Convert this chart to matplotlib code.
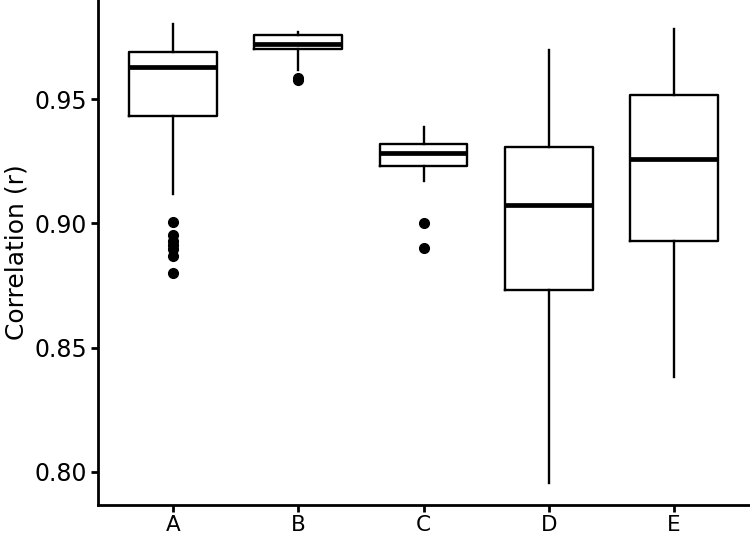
import matplotlib
matplotlib.use("Agg")
import matplotlib.pyplot as plt

# values
groups = ["A", "B", "C", "D", "E"]
whisker_low = [0.9117, 0.9618, 0.9171, 0.7953, 0.8382]
q1 = [0.9433, 0.9703, 0.9232, 0.8731, 0.8930]
median = [0.9630, 0.9722, 0.9282, 0.9074, 0.9258]
q3 = [0.9692, 0.9761, 0.9321, 0.9309, 0.9517]
whisker_high = [0.9803, 0.9772, 0.9387, 0.9700, 0.9782]
outliers = [
    [0.9005, 0.8953, 0.8929, 0.8913, 0.8897, 0.8869, 0.8800],
    [0.9586, 0.9576],
    [0.9000, 0.8902],
    [],
    [],
]

stats = []
for i, g in enumerate(groups):
    stats.append({
        "label": g,
        "whislo": whisker_low[i],
        "q1": q1[i],
        "med": median[i],
        "q3": q3[i],
        "whishi": whisker_high[i],
        "fliers": outliers[i],
    })

fig = plt.figure(figsize=(7.5, 5.38), dpi=100)
ax = fig.add_axes([98 / 750, 33 / 538, 651 / 750, 505 / 538])

ax.bxp(
    stats,
    widths=0.7,
    showcaps=False,
    boxprops=dict(color="black", linewidth=1.7),
    whiskerprops=dict(color="black", linewidth=1.7),
    medianprops=dict(color="black", linewidth=3.4, solid_capstyle="butt"),
    flierprops=dict(marker="o", markerfacecolor="black", markeredgecolor="black",
                    markersize=7, linestyle="none"),
)

ax.set_xlim(0.4, 5.6)
ax.set_ylim(0.7866, 0.990)
ax.set_yticks([0.80, 0.85, 0.90, 0.95])
ax.set_yticklabels(["0.80", "0.85", "0.90", "0.95"])
ax.set_ylabel("Correlation (r)", fontsize=18, labelpad=4)

for side in ["top", "right"]:
    ax.spines[side].set_visible(False)
for side in ["left", "bottom"]:
    ax.spines[side].set_linewidth(2)
ax.tick_params(axis="both", width=2, length=5, color="black")
ax.tick_params(axis="y", labelsize=17, pad=3)
ax.tick_params(axis="x", labelsize=15.5, pad=2)

plt.savefig("out.png", dpi=100)
plt.close()
